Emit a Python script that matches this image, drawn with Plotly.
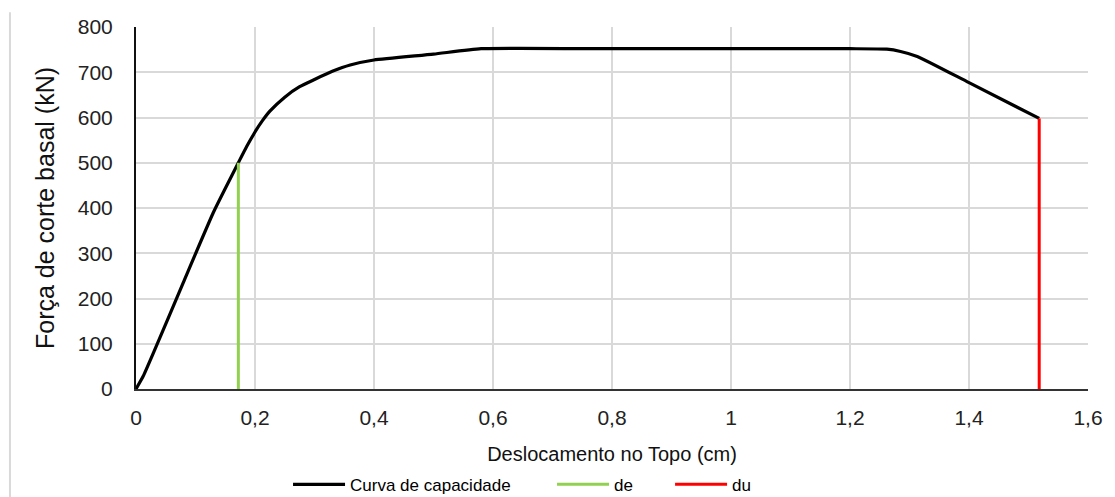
import plotly.graph_objects as go

# Capacity curve (displacement at top in cm, base shear in kN)
disp = [0, 0.012, 0.03, 0.08, 0.13, 0.15, 0.172, 0.186, 0.2, 0.2125, 0.225, 0.25,
        0.275, 0.3, 0.33, 0.36, 0.4, 0.5, 0.58, 0.8, 1.0, 1.2, 1.262, 1.285,
        1.313, 1.4, 1.518]
shear = [0, 28, 82, 237, 390, 443, 500, 536, 568, 593, 614, 645,
         668, 684, 702, 716, 727, 740, 752, 752, 752, 752, 751, 746,
         735, 677, 598]

de_x = [0.172, 0.172]
de_y = [0, 500]
du_x = [1.518, 1.518]
du_y = [0, 598]

x_ticks = [0, 0.2, 0.4, 0.6, 0.8, 1.0, 1.2, 1.4, 1.6]
x_labels = ["0", "0,2", "0,4", "0,6", "0,8", "1", "1,2", "1,4", "1,6"]
y_ticks = [0, 100, 200, 300, 400, 500, 600, 700, 800]

FONT = "Liberation Sans, Arial, sans-serif"

fig = go.Figure()
fig.add_trace(go.Scatter(x=disp, y=shear, mode="lines", name="Curva de capacidade",
                         line=dict(color="#000000", width=3.2, shape="spline", smoothing=0.5),
                         legend="legend", showlegend=True))
fig.add_trace(go.Scatter(x=de_x, y=de_y, mode="lines", name="de",
                         line=dict(color="#92d050", width=3), legend="legend2", showlegend=True))
fig.add_trace(go.Scatter(x=du_x, y=du_y, mode="lines", name="du",
                         line=dict(color="#ff0000", width=3), legend="legend3", showlegend=True))

leg_common = dict(orientation="h", yref="container", yanchor="middle", y=0.025,
                  xanchor="left",
                  font=dict(family=FONT, size=17, color="#000000"),
                  itemwidth=52, bgcolor="rgba(0,0,0,0)", borderwidth=0)

fig.update_layout(
    width=1107, height=489,
    margin=dict(l=128, r=27, t=19, b=108, autoexpand=False),
    paper_bgcolor="white", plot_bgcolor="white",
    showlegend=True,
    font=dict(family=FONT, color="#222222"),
    legend=dict(x=0.1597, **leg_common),
    legend2=dict(x=0.437, **leg_common),
    legend3=dict(x=0.561, **leg_common),
    xaxis=dict(
        range=[0, 1.6], tickvals=x_ticks, ticktext=x_labels,
        showgrid=True, gridcolor="#d9d9d9", gridwidth=1.5,
        showline=True, linecolor="#333333", linewidth=2,
        zeroline=False, ticks="", ticklabelstandoff=9,
        tickfont=dict(family=FONT, size=21, color="#222222"),
        title=dict(text="Deslocamento no Topo (cm)", standoff=19,
                   font=dict(family=FONT, size=20, color="#111111")),
        automargin=False,
    ),
    yaxis=dict(
        range=[0, 800], tickvals=y_ticks,
        showgrid=True, gridcolor="#d9d9d9", gridwidth=1.5,
        showline=True, linecolor="#111111", linewidth=2,
        zeroline=False, ticks="", ticklabelstandoff=17,
        tickfont=dict(family=FONT, size=21, color="#222222"),
        title=dict(text="Força de corte basal (kN)", standoff=16,
                   font=dict(family=FONT, size=25, color="#111111")),
        automargin=False,
    ),
    shapes=[dict(type="line", xref="paper", yref="paper",
                 x0=-0.1324, x1=-0.1324, y0=-0.32, y1=1.041,
                 line=dict(color="#d9d9d9", width=2))],
)

fig.write_html("out.html")
